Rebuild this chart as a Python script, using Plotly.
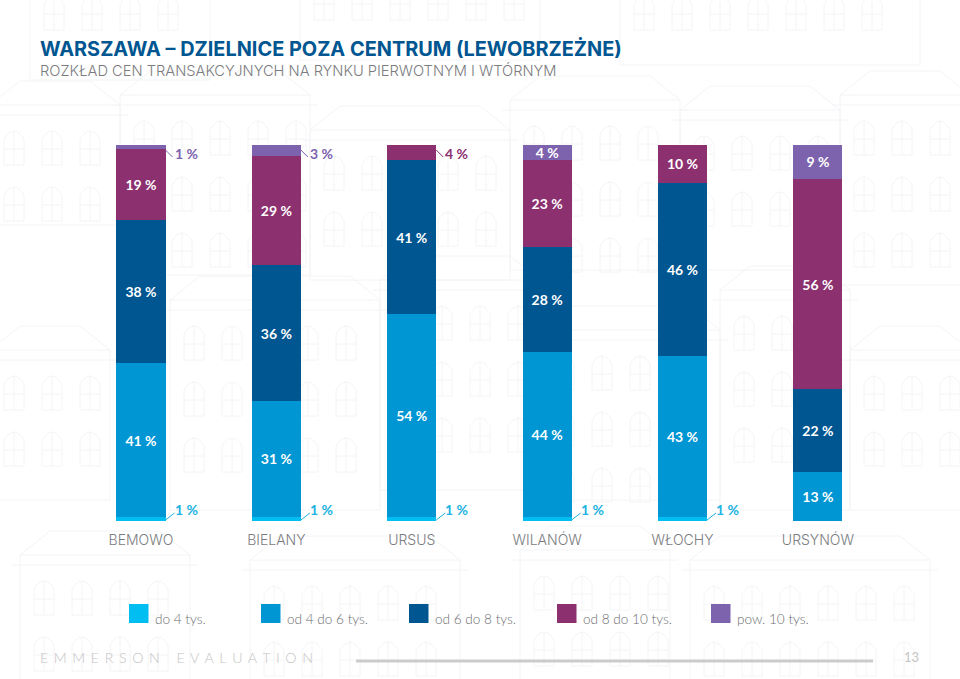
import plotly.graph_objects as go

districts = ["BEMOWO", "BIELANY", "URSUS", "WILANÓW", "WŁOCHY", "URSYNÓW"]
series_names = ["do 4 tys.", "od 4 do 6 tys.", "od 6 do 8 tys.", "od 8 do 10 tys.", "pow. 10 tys."]
colors = ["#00BDF2", "#0095D3", "#005691", "#8C3070", "#7D62AE"]

do_4 = [1, 1, 1, 1, 1, 0]
od_4_6 = [41, 31, 54, 44, 43, 13]
od_6_8 = [38, 36, 41, 28, 46, 22]
od_8_10 = [19, 29, 4, 23, 10, 56]
pow_10 = [1, 3, 0, 4, 0, 9]
values = [do_4, od_4_6, od_6_8, od_8_10, pow_10]

# (district, series) labels that sit outside the bar with a small leader line
outside = [(0, 0), (1, 0), (2, 0), (3, 0), (4, 0), (0, 4), (1, 4), (2, 3)]

W, H = 960, 679
L, R, T, B = 71, 69, 145, 158
BAR_W = 0.362
legend_swatch_x = [129, 261, 409, 557, 711]
legend_text_x = [155, 287, 435, 583, 737]


def px(x):
    return (x - L) / (W - L - R)


def py(y):
    return 1 - (y - T) / (H - T - B)


fig = go.Figure()

for s, name in enumerate(series_names):
    labels = []
    for d, v in enumerate(values[s]):
        labels.append("" if v == 0 or (d, s) in outside else f"{v} %")
    fig.add_trace(go.Bar(
        x=districts, y=values[s], name=name, width=BAR_W,
        marker=dict(color=colors[s], line=dict(width=0)),
        text=labels, textposition="inside", insidetextanchor="middle",
        textangle=0, constraintext="none",
        textfont=dict(family="Lato", size=14, color="white", weight=700),
        showlegend=False,
    ))

# outside labels with leader lines
for d, s in outside:
    low = s == 0
    edge = 0 if low else 100
    line_color = "#1FB0E0" if low else colors[s]
    fig.add_shape(type="line", xref="x", yref="y", xsizemode="pixel", ysizemode="pixel",
                  xanchor=d + BAR_W / 2, yanchor=edge,
                  x0=0, x1=9 if low else 7,
                  y0=1 if low else -5, y1=8 if low else -12,
                  line=dict(color=line_color, width=1))
    fig.add_annotation(
        x=d + BAR_W / 2, y=edge, xref="x", yref="y", text=f"{values[s][d]} %",
        showarrow=False, xanchor="left", yanchor="middle",
        xshift=7, yshift=12 if low else -8,
        font=dict(family="Lato", size=14, weight=700, color="#22B2E2" if low else colors[s]),
    )

# legend built by hand: swatches are larger than plotly's own
for s, name in enumerate(series_names):
    fig.add_shape(type="rect", xref="paper", yref="paper",
                  x0=px(legend_swatch_x[s]), x1=px(legend_swatch_x[s] + 19.5),
                  y0=py(623), y1=py(604), fillcolor=colors[s], line_width=0)
    fig.add_annotation(xref="paper", yref="paper", x=px(legend_text_x[s] - 2), y=py(619),
                       text=name, showarrow=False, xanchor="left", yanchor="middle",
                       font=dict(family="Lato", size=13.6, color="#6d6e71", weight=300))

# titles
fig.add_annotation(xref="paper", yref="paper", x=px(38), y=py(49), xanchor="left", yanchor="middle",
                   text="WARSZAWA – DZIELNICE POZA CENTRUM (LEWOBRZEŻNE)", showarrow=False,
                   font=dict(family="Inter", size=19.9, color="#005691", weight=700))
fig.add_annotation(xref="paper", yref="paper", x=px(38), y=py(71), xanchor="left", yanchor="middle",
                   text="ROZKŁAD CEN TRANSAKCYJNYCH NA RYNKU PIERWOTNYM I WTÓRNYM", showarrow=False,
                   font=dict(family="Inter", size=14.65, color="#7b7c80", weight=300))

# footer
fig.add_annotation(xref="paper", yref="paper", x=px(38), y=py(657), xanchor="left", yanchor="middle",
                   text="E\u2009 M\u2009 M\u2009 E\u2009 R\u2009 S\u2009 O\u2009 N\u2009 \u2009 \u2009 E\u2009 V\u2009 A\u2009 L\u2009 U\u2009 A\u2009 T\u2009 I\u2009 O\u2009 N",
                   showarrow=False, font=dict(family="Lato", size=14.2, color="#c4c4c4", weight=300))
fig.add_shape(type="line", xref="paper", yref="paper", x0=px(356), x1=px(873), y0=py(661), y1=py(661),
              line=dict(color="#cbcbcb", width=3))
fig.add_annotation(xref="paper", yref="paper", x=px(911), y=py(657), xanchor="center", yanchor="middle",
                   text="13", showarrow=False, font=dict(family="Lato", size=13, color="#c4c4c4"))

# faint building sketch behind everything
buildings = [(-10, 105, 130, 120), (120, 95, 190, 180), (310, 130, 200, 150), (510, 100, 170, 170),
             (680, 110, 160, 160), (840, 95, 130, 190), (-10, 350, 120, 150), (170, 300, 210, 210),
             (380, 280, 160, 210), (540, 330, 180, 170), (720, 290, 130, 220), (850, 350, 120, 160),
             (20, 555, 170, 130), (250, 560, 210, 125), (520, 550, 150, 135), (690, 560, 240, 125),
             (30, -30, 180, 110), (300, -40, 240, 100), (620, -30, 300, 95)]
for bx, by, bw, bh in buildings:
    path = f"M{px(bx)},{py(by)} L{px(bx + bw)},{py(by)} L{px(bx + bw)},{py(by + bh)} L{px(bx)},{py(by + bh)} Z "
    # cornice and roof slope
    path += f"M{px(bx - 8)},{py(by + 10)} L{px(bx + bw + 8)},{py(by + 10)} "
    path += f"M{px(bx)},{py(by)} L{px(bx + 30)},{py(by - 24)} L{px(bx + bw - 30)},{py(by - 24)} L{px(bx + bw)},{py(by)} "
    for wx in range(bx + 14, bx + bw - 20, 38):
        for wy in range(by + 26, by + bh - 30, 56):
            path += f"M{px(wx)},{py(wy + 34)} L{px(wx)},{py(wy + 8)} Q{px(wx + 10)},{py(wy - 8)} {px(wx + 20)},{py(wy + 8)} L{px(wx + 20)},{py(wy + 34)} Z "
            path += f"M{px(wx + 10)},{py(wy)} L{px(wx + 10)},{py(wy + 34)} M{px(wx)},{py(wy + 18)} L{px(wx + 20)},{py(wy + 18)} "
    fig.add_shape(type="path", xref="paper", yref="paper", path=path, layer="below",
                  line=dict(color="#f3f4f6", width=1))

fig.update_layout(
    barmode="stack", width=W, height=H, margin=dict(l=L, r=R, t=T, b=B),
    paper_bgcolor="white", plot_bgcolor="rgba(0,0,0,0)",
    xaxis=dict(range=[-0.517, 5.54], showgrid=False, zeroline=False, showline=False,
               ticks="outside", ticklen=6, tickcolor="rgba(0,0,0,0)",
               tickfont=dict(family="Inter", size=14, color="#7b7c80", weight=300)),
    yaxis=dict(range=[0, 100], visible=False),
)

fig.write_html("out.html", config=dict(displayModeBar=False),
               post_script="document.body.style.margin='0';")
